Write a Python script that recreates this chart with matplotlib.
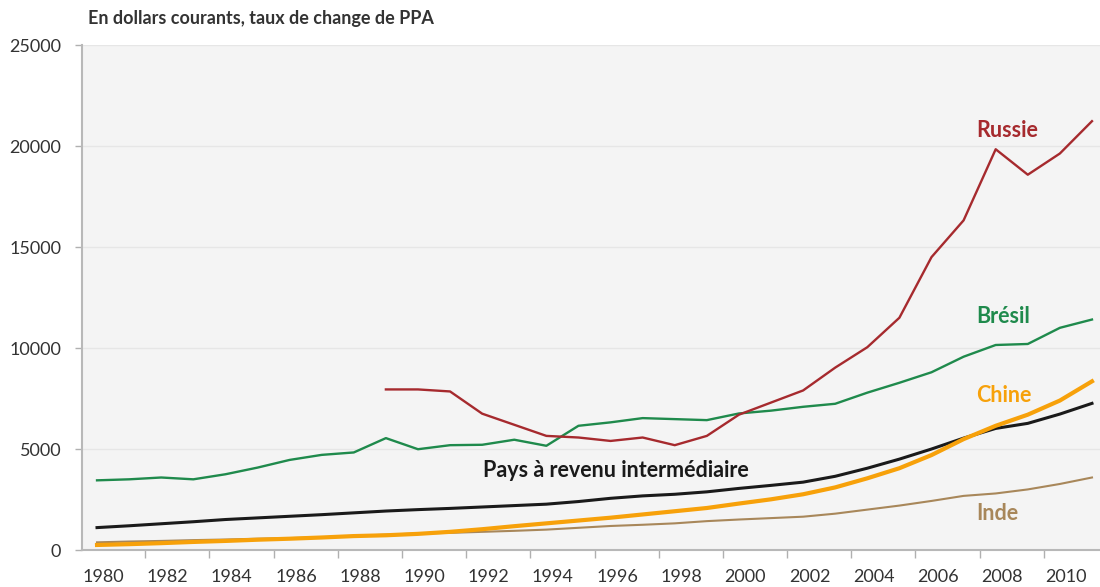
import matplotlib.pyplot as plt
import numpy as np

plt.rcParams['font.family'] = ['Lato', 'DejaVu Sans']

years = list(range(1980, 2012))

russie = [None] * 9 + [7950, 7950, 7850, 6750, 6200, 5650, 5570, 5400, 5570, 5190, 5650,
                       6700, 7300, 7900, 9030, 10040, 11500, 14500, 16320, 19840, 18580,
                       19630, 21230]
bresil = [3450, 3500, 3590, 3500, 3750, 4080, 4460, 4710, 4830, 5540, 4990, 5190, 5210,
          5460, 5160, 6150, 6320, 6530, 6480, 6430, 6760, 6900, 7090, 7240, 7790, 8280,
          8800, 9570, 10150, 10200, 11000, 11410]
revenu_inter = [1110, 1200, 1300, 1400, 1510, 1590, 1670, 1750, 1840, 1930, 2000, 2060,
                2130, 2200, 2270, 2400, 2560, 2680, 2760, 2880, 3050, 3200, 3360, 3650,
                4050, 4500, 5000, 5540, 6020, 6270, 6730, 7260]
chine = [250, 290, 340, 400, 450, 510, 560, 620, 690, 730, 800, 900, 1030, 1180, 1320,
         1460, 1600, 1760, 1920, 2080, 2300, 2510, 2760, 3100, 3550, 4050, 4700, 5490,
         6150, 6700, 7400, 8350]
inde = [380, 420, 450, 490, 520, 560, 590, 630, 700, 760, 820, 850, 900, 950, 1010, 1100,
        1190, 1250, 1320, 1430, 1510, 1580, 1650, 1800, 2000, 2200, 2430, 2680, 2800,
        3000, 3270, 3590]

fig = plt.figure(figsize=(11, 5.87), dpi=100)
ax = fig.add_axes([0.0745, 0.063, 0.9255, 0.8603])
ax.set_facecolor('#f4f4f4')

russie_arr = np.array([np.nan if v is None else v for v in russie], dtype=float)

ax.plot(years, inde, color='#a8875a', lw=1.5, zorder=3)
ax.plot(years, revenu_inter, color='#1a1a1a', lw=2.2, zorder=4)
ax.plot(years, chine, color='#f7a10a', lw=3.0, zorder=5)
ax.plot(years, bresil, color='#1f8a4c', lw=1.7, zorder=3)
ax.plot(years, russie_arr, color='#a62a2e', lw=1.7, zorder=4)

ax.set_xlim(1979.53, 2011.25)
ax.set_ylim(0, 25000)

ax.set_yticks(range(0, 25001, 5000))
ax.yaxis.grid(True, color='#e6e6e6', lw=1)
ax.set_axisbelow(True)
ax.tick_params(axis='y', length=5, width=1, color='#b0b0b0', pad=10,
               labelsize=13, labelcolor='#333333')

ax.set_xticks(np.arange(1980, 2011, 2) + 0.2)
ax.set_xticklabels([str(y) for y in range(1980, 2011, 2)])
ax.set_xticks(np.arange(1981.5, 2011, 2), minor=True)
ax.tick_params(axis='x', which='major', length=0, pad=14, labelsize=13,
               labelcolor='#333333')
ax.tick_params(axis='x', which='minor', length=6, width=1, color='#b0b0b0')

for s in ['top', 'right']:
    ax.spines[s].set_visible(False)
for s in ['left', 'bottom']:
    ax.spines[s].set_color('#b8b8b8')
    ax.spines[s].set_linewidth(1.5)

lab = dict(fontsize=15.5, fontweight='bold', ha='left', va='center')
ax.text(2007.38, 20750, 'Russie', color='#a62a2e', **lab)
ax.text(2007.38, 11560, 'Brésil', color='#1f8a4c', **lab)
ax.text(2007.38, 7640, 'Chine', color='#f7a10a', **lab)
ax.text(2007.38, 1790, 'Inde', color='#a8875a', **lab)
ax.text(1992.03, 3920, 'Pays à revenu intermédiaire', color='#1a1a1a', **lab)

fig.text(0.08, 0.968, 'En dollars courants, taux de change de PPA', fontsize=13,
         fontweight='bold', color='#333333', ha='left', va='center')

fig.savefig('out.png', dpi=100)
